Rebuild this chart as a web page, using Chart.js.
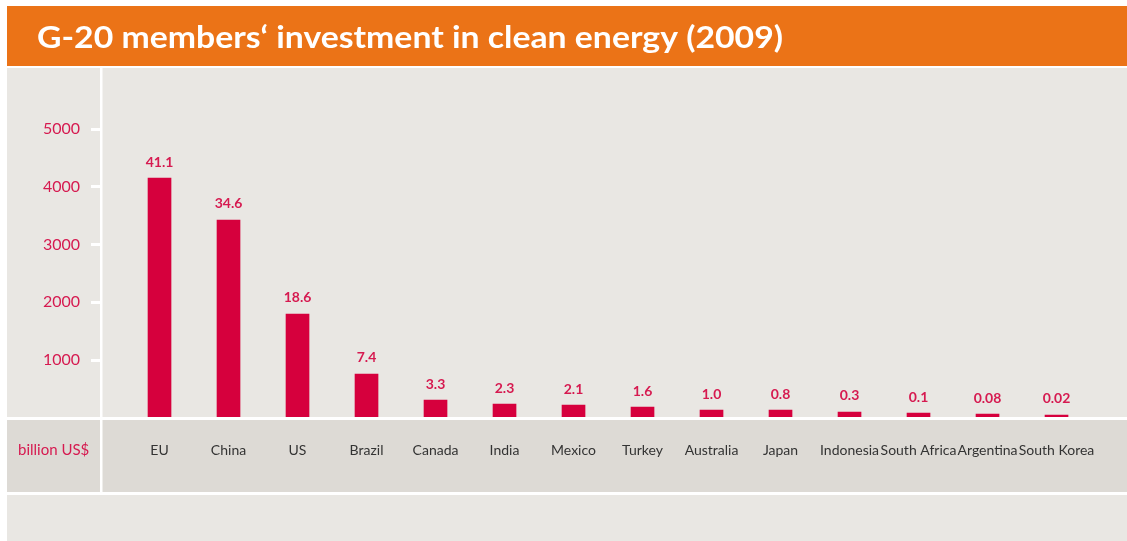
<!DOCTYPE html>
<html><head><meta charset="utf-8">
<script src="https://cdn.jsdelivr.net/npm/chart.js@4.4.0/dist/chart.umd.min.js"></script>
<style>html,body{margin:0;padding:0;background:#fff}canvas{display:block}</style>
</head><body>
<canvas id="c" width="1127" height="541"></canvas>
<script>
const categories = ['EU','China','US','Brazil','Canada','India','Mexico','Turkey','Australia','Japan','Indonesia','South Africa','Argentina','South Korea'];
const barValues = [4150, 3425, 1797, 758, 307, 238, 221, 186, 134, 134, 100, 82, 65, 48];
const valueLabels = ['41.1','34.6','18.6','7.4','3.3','2.3','2.1','1.6','1.0','0.8','0.3','0.1','0.08','0.02'];
const yTicks = [1000, 2000, 3000, 4000, 5000];
const titleText = 'G-20 members\u2018 investment in clean energy (2009)';
const unitLabel = 'billion US$';

const CRIMSON = '#D6003D';
const CRIMSON_TEXT = '#D61A50';
const FONT = 'Lato, "Open Sans", sans-serif';

const decor = {
  id: 'decor',
  beforeDraw(chart) {
    const c = chart.ctx;
    c.save();
    c.fillStyle = '#ffffff'; c.fillRect(0, 0, 1127, 541);
    c.fillStyle = '#EB7317'; c.fillRect(7, 6, 1120, 60);
    c.fillStyle = '#E9E7E3'; c.fillRect(7, 68, 1120, 349);
    c.fillStyle = '#DDDAD5'; c.fillRect(7, 420, 1120, 72);
    c.fillStyle = '#E9E7E3'; c.fillRect(7, 495, 1120, 46);
    c.fillStyle = '#ffffff'; c.fillRect(100, 68, 2.5, 424);
    c.restore();
  },
  afterDatasetsDraw(chart) {
    const c = chart.ctx;
    c.save();
    c.fillStyle = '#ffffff'; c.fillRect(7, 417, 1120, 3);
    c.fillRect(100, 417, 2.5, 3);
    const meta = chart.getDatasetMeta(0);
    c.fillStyle = CRIMSON_TEXT;
    c.font = 'bold 14px ' + FONT;
    c.textAlign = 'center';
    c.textBaseline = 'middle';
    meta.data.forEach((bar, i) => {
      c.fillText(valueLabels[i], bar.x, bar.y - 16);
    });
    c.restore();
  },
  afterDraw(chart) {
    const c = chart.ctx;
    c.save();
    c.fillStyle = '#ffffff';
    c.font = 'bold 30px ' + FONT;
    c.textBaseline = 'alphabetic';
    c.textAlign = 'left';
    const w = c.measureText(titleText).width;
    const sx = 746 / w;
    c.translate(37, 48);
    c.scale(sx, 1);
    c.fillText(titleText, 0, 0);
    c.restore();
    c.save();
    c.fillStyle = CRIMSON_TEXT;
    c.font = '15px ' + FONT;
    c.textBaseline = 'middle';
    c.textAlign = 'left';
    c.fillText(unitLabel, 18, 450);
    c.restore();
  }
};

new Chart(document.getElementById('c'), {
  type: 'bar',
  data: {
    datasets: [{
      data: barValues.map((v, i) => ({ x: i, y: v })),
      backgroundColor: CRIMSON,
      barThickness: 23
    }]
  },
  options: {
    responsive: false,
    devicePixelRatio: 1,
    animation: false,
    layout: { padding: { top: 71.25, left: 0, right: 7, bottom: 0 } },
    plugins: { legend: { display: false }, tooltip: { enabled: false }, title: { display: false } },
    scales: {
      x: {
        type: 'linear',
        offset: false,
        min: -0.848,
        max: 13.92,
        afterBuildTicks: s => { s.ticks = categories.map((_, i) => ({ value: i })); },
        afterFit: s => { s.height = 123.25; },
        grid: { display: false, offset: false },
        border: { display: false },
        ticks: {
          autoSkip: false, maxRotation: 0, minRotation: 0,
          color: '#333333',
          font: { family: FONT, size: 14 },
          padding: 16,
          callback: v => categories[v]
        }
      },
      y: {
        min: 0,
        max: 6000,
        afterBuildTicks: s => { s.ticks = yTicks.map(v => ({ value: v })); },
        afterFit: s => { s.width = 101; },
        border: { display: false },
        grid: { drawOnChartArea: false, drawTicks: true, tickLength: 10, tickWidth: 3, color: '#ffffff' },
        ticks: { color: CRIMSON_TEXT, font: { family: FONT, size: 16 }, padding: 11, callback: v => String(v) }
      }
    }
  },
  plugins: [decor]
});
</script>
</body></html>
